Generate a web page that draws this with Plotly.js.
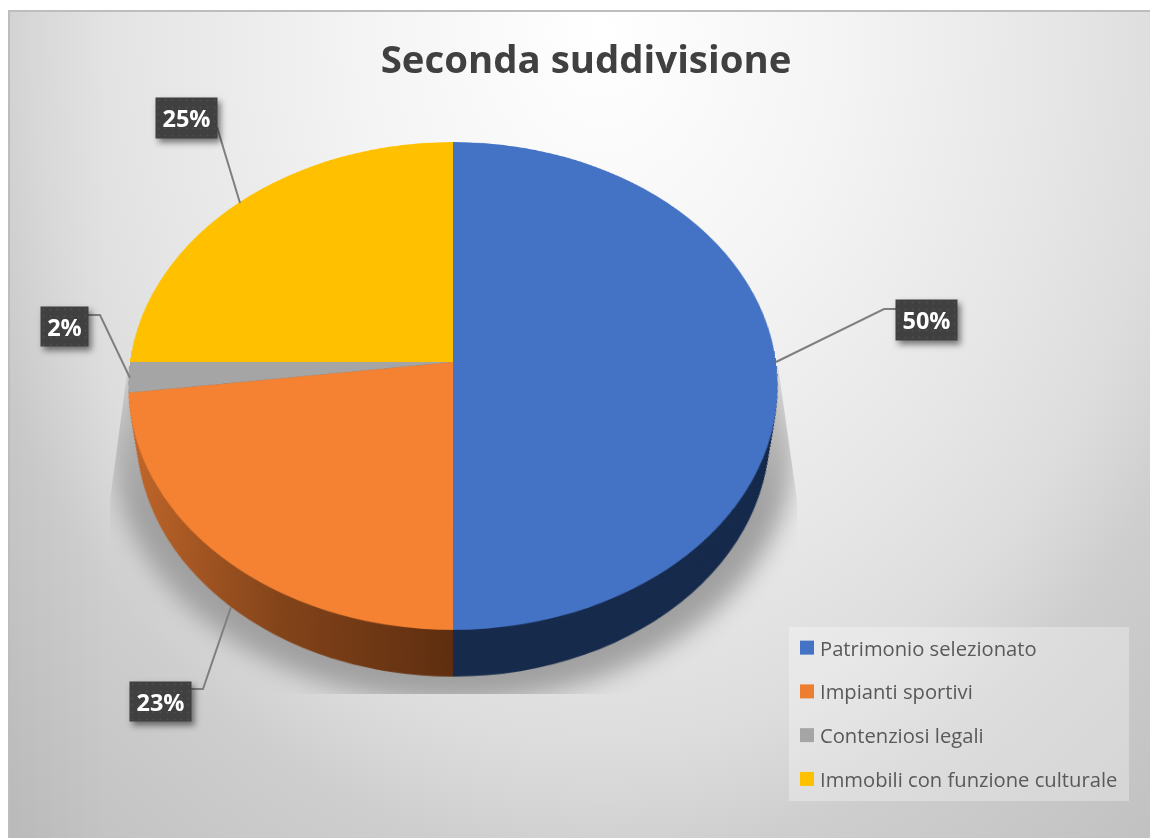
<!DOCTYPE html>
<html lang="it">
<head>
<meta charset="utf-8">
<title>Seconda suddivisione</title>
<script src="https://cdn.plot.ly/plotly-3.0.1.min.js"></script>
<style>
  html, body { margin: 0; padding: 0; background: #fff; width: 1150px; height: 838px; overflow: hidden; }
  #frame {
    position: absolute; left: 8px; top: 10px; width: 1142px; height: 828px;
    box-sizing: border-box; border-top: 2px solid #bdbdbd; border-left: 2px solid #bdbdbd;
    background:
      linear-gradient(to right, rgba(0,0,0,0.03), rgba(0,0,0,0) 100px),
      radial-gradient(ellipse 800px 1000px at 592px 20px, #ffffff 0%, #f4f4f4 30%, #e6e6e6 57%, #dddddd 71%, #d6d6d6 77%, #cecece 83%, #bcbcbc 115%);
  }
  /* soft cast shadow beneath the disc, cut by a flat lower edge */
  #shadowClip {
    position: absolute; left: 0; top: 0; width: 1150px; height: 838px;
    clip-path: polygon(128px 366px, 110px 500px, 110px 694px, 797px 694px, 797px 500px, 778px 366px);
  }
  #shadow {
    position: absolute; left: 112px; top: 190px; width: 682px; height: 512px; border-radius: 50%;
    background: linear-gradient(to bottom, rgba(165,165,165,0.5) 35%, rgba(160,160,160,1) 62%);
    filter: blur(12px);
  }
  #disc { position: absolute; left: 130px; top: 39px; width: 646px; height: 700px; transform-origin: 323px 323px; }
  #overlay { position: absolute; left: 0; top: 0; width: 1150px; height: 838px; }
  #overlay .annotation rect.bg { fill: url(#labelDots) !important; filter: drop-shadow(3px 4px 3px rgba(0,0,0,0.5)); }
</style>
</head>
<body>
<svg width="0" height="0" style="position:absolute">
  <defs>
    <linearGradient id="sideOrange" gradientUnits="userSpaceOnUse" x1="5" y1="0" x2="323" y2="0">
      <stop offset="0" stop-color="#c4682b"/>
      <stop offset="0.5" stop-color="#84441a"/>
      <stop offset="1" stop-color="#5e2e10"/>
    </linearGradient>
    <pattern id="labelDots" patternUnits="userSpaceOnUse" width="7" height="7">
      <rect width="7" height="7" fill="#404040"/>
      <circle cx="3.5" cy="3.5" r="1" fill="#4e4e4e"/>
    </pattern>
  </defs>
</svg>
<div id="frame"></div>
<div id="shadowClip"><div id="shadow"></div></div>
<div id="disc"></div>
<div id="overlay"></div>
<script>
// Chart content
const chartTitle = 'Seconda suddivisione';
const categories = ['Patrimonio selezionato', 'Impianti sportivi', 'Contenziosi legali', 'Immobili con funzione culturale'];
const shares = [50, 23, 2, 25];
const topColors = ['#4472C4', '#F58232', '#A5A5A5', '#FFC000'];
const sideColors = ['#172B4D', '#84441a', '#636363', '#997300'];
const legendColors = ['#4472C4', '#ED7D31', '#A5A5A5', '#FFC000'];

// Camera for the tilted disc: the CSS transform tips the flat pie back in perspective,
// and lower layers of the cylinder are expressed as similar circles in the same plane.
const radius = 323, discW = 646, discH = 700;
const cameraDistance = 2182, tiltDeg = 41.6, thickness = 76, layerStep = 2;
const sinT = Math.sin(tiltDeg * Math.PI / 180), cosT = Math.cos(tiltDeg * Math.PI / 180);
document.getElementById('disc').style.transform =
  `perspective(${cameraDistance}px) rotateX(${tiltDeg}deg)`;

function layerTrace(depth, colors) {
  const k = cameraDistance * cosT / (cameraDistance * cosT + depth);
  const r = radius * k;
  const cy = cameraDistance * sinT * (1 - k);
  return {
    type: 'pie', values: shares, labels: categories, sort: false, direction: 'clockwise', rotation: 0,
    textinfo: 'none', hoverinfo: 'skip', showlegend: false,
    marker: { colors: colors, line: { width: 0 } },
    domain: {
      x: [(radius - r) / discW, (radius + r) / discW],
      y: [(discH - (radius + cy + r)) / discH, (discH - (radius + cy - r)) / discH]
    }
  };
}

const discTraces = [];
for (let depth = thickness; depth > 0; depth -= layerStep) discTraces.push(layerTrace(depth, sideColors));
discTraces.push(layerTrace(0, topColors));

Plotly.newPlot('disc', discTraces, {
  width: discW, height: discH, margin: { l: 0, r: 0, t: 0, b: 0 },
  paper_bgcolor: 'rgba(0,0,0,0)', showlegend: false
}, { staticPlot: true, displayModeBar: false }).then(gd => {
  // The orange wall darkens towards the front of the cylinder.
  const layers = gd.querySelectorAll('.pielayer .trace');
  layers.forEach((layer, i) => {
    if (i === layers.length - 1) return;
    const wall = layer.querySelectorAll('.slice path.surface')[1];
    if (wall) wall.style.fill = 'url(#sideOrange)';
  });
});

// Leader lines and percentage labels, in page pixels
const labelText = shares.map(v => v + '%');
const labelBoxes = [
  { x: 926.5, y: 320, w: 61, h: 40 },
  { x: 160.5, y: 701, w: 61, h: 39 },
  { x: 64.5, y: 326.5, w: 47, h: 39 },
  { x: 186.5, y: 118, w: 61, h: 40 }
];
const leaderPaths = [
  'M776,362 L884,309 L896,309',
  'M191,689 L203,689 L231,607',
  'M88,315 L100,315 L130,378',
  'M217,127 L240,203'
];

const legendTraces = categories.map((name, i) => ({
  type: 'scatter', mode: 'markers', x: [null], y: [null], name: name, legendgroup: name,
  marker: { symbol: 'square', size: 14, color: legendColors[i] }, hoverinfo: 'skip'
}));

const hiddenAxis = { visible: false, fixedrange: true };
Plotly.newPlot('overlay', legendTraces, {
  width: 1150, height: 838, margin: { l: 0, r: 0, t: 0, b: 0 },
  paper_bgcolor: 'rgba(0,0,0,0)', plot_bgcolor: 'rgba(0,0,0,0)',
  title: {
    text: '<b>' + chartTitle + '</b>', x: 586 / 1150, xanchor: 'center', y: 1 - 60 / 838, yanchor: 'middle',
    font: { family: 'Open Sans, sans-serif', size: 38.4, color: '#404040' }
  },
  xaxis: Object.assign({ range: [0, 1150] }, hiddenAxis),
  yaxis: Object.assign({ range: [838, 0] }, hiddenAxis),
  showlegend: true,
  legend: {
    x: 780 / 1150, xanchor: 'left', y: 1 - 628 / 838, yanchor: 'top',
    bgcolor: 'rgba(0,0,0,0)', borderwidth: 0, tracegroupgap: 14.5, itemsizing: 'trace', itemwidth: 30,
    font: { family: 'Open Sans, sans-serif', size: 20.2, color: '#595959' }
  },
  shapes: [
    { type: 'rect', xref: 'x', yref: 'y', x0: 789, x1: 1129, y0: 627, y1: 801, line: { width: 0 }, fillcolor: 'rgba(255,255,255,0.3)', layer: 'below' }
  ].concat(leaderPaths.map(p => ({ type: 'path', xref: 'x', yref: 'y', path: p, line: { color: '#7f7f7f', width: 2 } }))),
  annotations: labelBoxes.map((b, i) => ({
    xref: 'x', yref: 'y', x: b.x, y: b.y, xanchor: 'center', yanchor: 'middle', showarrow: false,
    width: b.w, height: b.h, align: 'center', valign: 'middle', bgcolor: '#404040', borderpad: 0,
    text: '<b>' + labelText[i] + '</b>',
    font: { family: 'Open Sans, sans-serif', size: 23.5, color: '#ffffff' }
  }))
}, { staticPlot: true, displayModeBar: false }).then(gd => {
  // Bring the legend swatches closer to their labels.
  gd.querySelectorAll('.legend .legendsymbols').forEach(g => g.setAttribute('transform', 'translate(7,0)'));
});
</script>
</body>
</html>
